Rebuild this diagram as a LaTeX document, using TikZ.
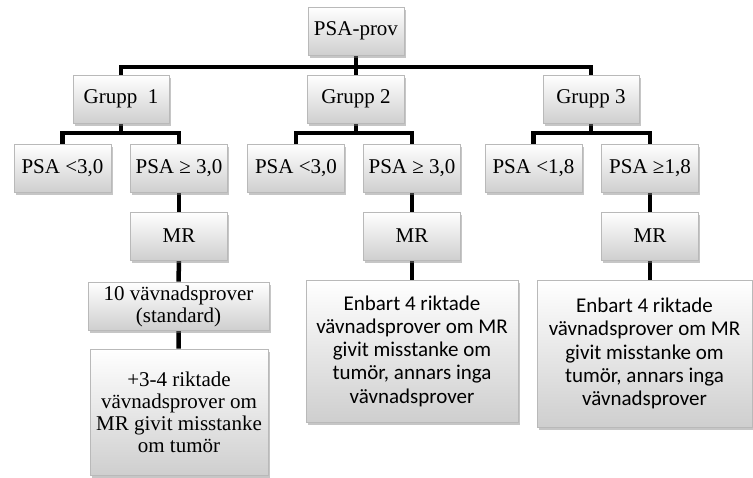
\documentclass[tikz,border=0pt]{standalone}
\usepackage{fontspec}
\setmainfont{Liberation Serif}
\newfontfamily\calibri{Carlito}
\usetikzlibrary{shadows,backgrounds}

\tikzset{
  box/.style={draw=gray!55, line width=0.7pt, top color=white, bottom color=gray!38,
    drop shadow={shadow xshift=1.5pt, shadow yshift=-3pt, opacity=0.45},
    align=center, inner sep=2pt, font=\fontsize{21}{22}\selectfont},
  sanstext/.style={font=\calibri\fontsize{21}{23.3}\selectfont},
  conn/.style={line width=4.5pt, black}
}

\begin{document}
\begin{tikzpicture}[x=1pt,y=1pt]

%% Fixed margins
\useasboundingbox (0,0) rectangle (753,-477);

%% Top and groups
\node[box, minimum width=96pt, minimum height=48pt] (prov) at (356,-31) {PSA-prov};
\node[box, minimum width=96pt, minimum height=48pt] (grupp1) at (121,-99) {Grupp\ \ 1};
\node[box, minimum width=97pt, minimum height=48pt] (grupp2) at (356,-99) {Grupp 2};
\node[box, minimum width=96pt, minimum height=48pt] (grupp3) at (591,-99) {Grupp 3};

%% PSA levels
\node[box, minimum width=97pt, minimum height=48pt] (low1) at (62.5,-168) {PSA <3,0};
\node[box, minimum width=97pt, minimum height=48pt] (high1) at (179,-168) {PSA ≥ 3,0};
\node[box, minimum width=97pt, minimum height=48pt] (low2) at (296,-168) {PSA <3,0};
\node[box, minimum width=97pt, minimum height=48pt] (high2) at (412,-168) {PSA ≥ 3,0};
\node[box, minimum width=97pt, minimum height=48pt] (low3) at (533.5,-168) {PSA <1,8};
\node[box, minimum width=97pt, minimum height=48pt] (high3) at (650,-168) {PSA ≥1,8};

%% MR
\node[box, minimum width=97pt, minimum height=48pt] (mr1) at (179,-236) {MR};
\node[box, minimum width=97pt, minimum height=48pt] (mr2) at (412,-236) {MR};
\node[box, minimum width=97pt, minimum height=48pt] (mr3) at (650,-236) {MR};

%% Biopsies
\node[box, minimum width=181pt, minimum height=48pt] (std) at (178.5,-306) {10 vävnadsprover\\(standard)};
\node[box, minimum width=178pt, minimum height=126pt] (extra) at (179,-412)
  {+3-4 riktade\\vävnadsprover om\\MR givit misstanke\\om tumör};
\node[box, sanstext, minimum width=212pt, minimum height=142pt] (only2) at (412,-351)
  {Enbart 4 riktade\\vävnadsprover om MR\\givit misstanke om\\tumör, annars inga\\vävnadsprover};
\node[box, sanstext, minimum width=215pt, minimum height=147pt] (only3) at (644.5,-353.5)
  {Enbart 4 riktade\\vävnadsprover om MR\\givit misstanke om\\tumör, annars inga\\vävnadsprover};

%% Bus lines
\coordinate (bus1) at (0,-67);
\coordinate (bus2) at (0,-133);

%% Connectors
\begin{scope}[on background layer]
\draw[conn] (prov.south) -- (grupp2.north);
\draw[conn] (prov.south |- bus1) -| (grupp1.north);
\draw[conn] (prov.south |- bus1) -| (grupp3.north);

\draw[conn] (grupp1.south) -- (grupp1.south |- bus2) -| (low1.north);
\draw[conn] (grupp1.south |- bus2) -| (high1.north);
\draw[conn] (grupp2.south) -- (grupp2.south |- bus2) -| (low2.north);
\draw[conn] (grupp2.south |- bus2) -| (high2.north);
\draw[conn] (grupp3.south) -- (grupp3.south |- bus2) -| (low3.north);
\draw[conn] (grupp3.south |- bus2) -| (high3.north);

\draw[conn] (high1) -- (mr1);
\draw[conn] (high2) -- (mr2);
\draw[conn] (high3) -- (mr3);
\draw[conn] (mr1) -- (std);
\draw[conn] (std) -- (extra);
\draw[conn] (mr2) -- (only2);
\draw[conn] (mr3.south) -- (mr3.south |- only3.north);
\end{scope}

\end{tikzpicture}
\end{document}
